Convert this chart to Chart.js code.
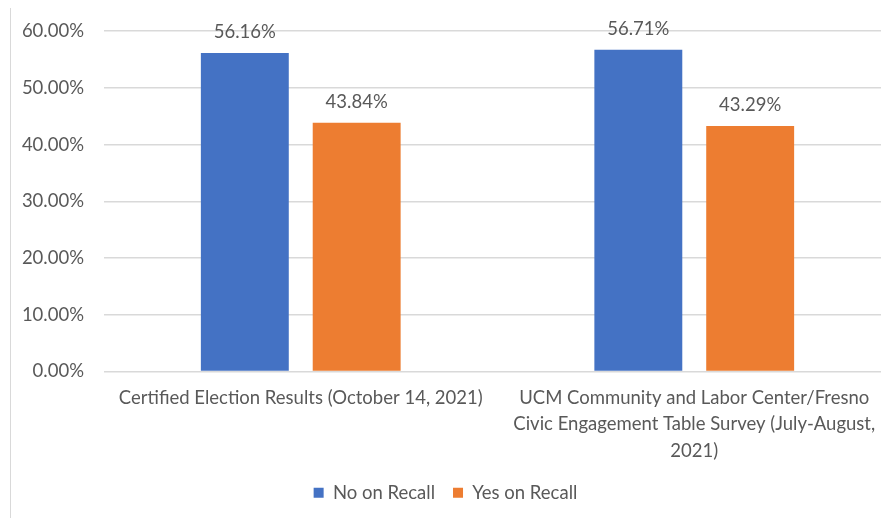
<!DOCTYPE html>
<html>
<head>
<meta charset="utf-8">
<script src="https://cdn.jsdelivr.net/npm/chart.js@4.4.0/dist/chart.umd.min.js"></script>
<style>
  html, body { margin: 0; padding: 0; background: #fff; overflow: hidden; }
  #wrap { position: absolute; left: 0; top: 0; width: 891px; height: 518px; }
  #frame { position: absolute; left: 10px; top: 8px; height: 510px; border-left: 1px solid #d9d9d9; }
</style>
</head>
<body>
<div id="wrap"><canvas id="recall-graph" width="891" height="518"></canvas></div>
<div id="frame"></div>
<script>
// chart data
const categories = [
    'Certified Election Results (October 14, 2021)',
    ['UCM Community and Labor Center/Fresno', 'Civic Engagement Table Survey (July-August,', '2021)']
];
const noOnRecall = [56.16, 56.71];
const yesOnRecall = [43.84, 43.29];
const seriesNames = ['No on Recall', 'Yes on Recall'];
const yTicks = [0, 10, 20, 30, 40, 50, 60];

const textColor = '#595959';
const fontFamily = 'Lato, "Open Sans", sans-serif';
const fontSize = 18.5;

const barLabels = { // draws the percentage above each bar
    id: 'barLabels',
    afterDatasetsDraw(chart) {
        const ctx = chart.ctx;
        ctx.save();
        ctx.font = fontSize + 'px ' + fontFamily;
        ctx.fillStyle = textColor;
        ctx.textAlign = 'center';
        ctx.textBaseline = 'middle';
        chart.data.datasets.forEach((ds, i) => {
            chart.getDatasetMeta(i).data.forEach((bar, j) => {
                ctx.fillText(ds.data[j].toFixed(2) + '%', bar.x, bar.y - 21);
            });
        });
        ctx.restore();
    }
};

const ctx = document.getElementById('recall-graph').getContext('2d');
new Chart(ctx, {
    type: 'bar',
    data: {
        labels: categories,
        datasets: [
            {
                label: seriesNames[0],
                data: noOnRecall,
                backgroundColor: '#4472C4'
            },
            {
                label: seriesNames[1],
                data: yesOnRecall,
                backgroundColor: '#ED7D31'
            }
        ]
    },
    options: {
        responsive: false,
        animation: false,
        categoryPercentage: 0.5685,
        barPercentage: 0.786,
        layout: { padding: { top: 26, right: 0, bottom: 6, left: 0 } },
        plugins: {
            tooltip: { enabled: false },
            legend: {
                position: 'bottom',
                labels: {
                    boxWidth: 10,
                    boxHeight: 10,
                    padding: 18,
                    color: textColor,
                    font: { family: fontFamily, size: fontSize }
                }
            }
        },
        scales: {
            x: {
                grid: { display: false, drawTicks: false },
                border: { color: '#d9d9d9' },
                ticks: {
                    color: textColor,
                    font: { family: fontFamily, size: fontSize, lineHeight: 1.43 },
                    maxRotation: 0,
                    autoSkip: false,
                    padding: 13
                },
                afterFit: (scale) => { scale.height = 94; }
            },
            y: {
                min: 0,
                max: 60,
                afterBuildTicks: (scale) => { scale.ticks = yTicks.map(v => ({ value: v })); },
                grid: { color: '#d9d9d9', drawTicks: false, lineWidth: 1.5 },
                border: { display: false },
                ticks: {
                    color: textColor,
                    font: { family: fontFamily, size: fontSize },
                    padding: 20,
                    callback: (v) => v.toFixed(2) + '%'
                },
                afterFit: (scale) => { scale.width = 104; }
            }
        }
    },
    plugins: [barLabels]
});
</script>
</body>
</html>
